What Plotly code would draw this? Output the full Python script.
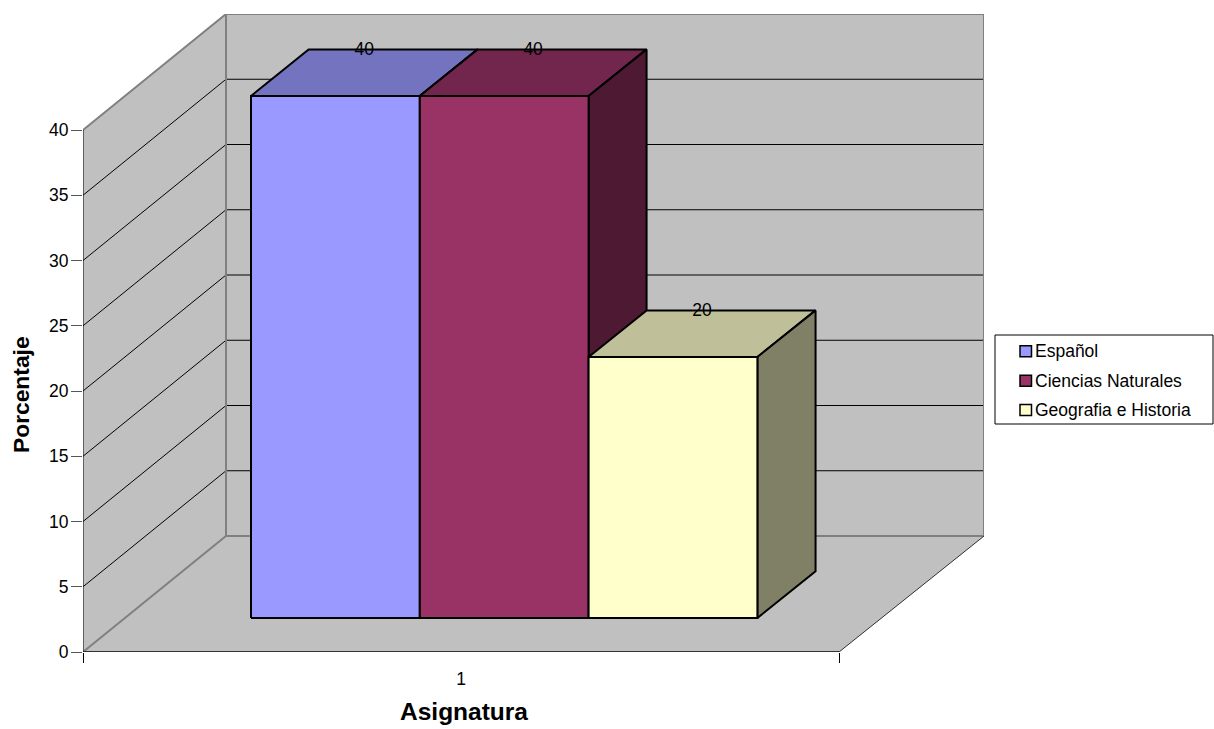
import plotly.graph_objects as go

# Chart data
series_names = ["Español", "Ciencias Naturales", "Geografia e Historia"]
series_values = [40, 40, 20]
category_label = "1"
value_ticks = [0, 5, 10, 15, 20, 25, 30, 35, 40]
x_title = "Asignatura"
y_title = "Porcentaje"

# Face colours of each bar: front, top, side
front_colors = ["#9999FF", "#993366", "#FFFFCC"]
top_colors = ["#7373BF", "#73264D", "#BFBF99"]
side_colors = ["#4D4D80", "#4D1933", "#808066"]

# Oblique projection of the 3D box onto the flat axes
PX_PER_CAT = 756
PX_PER_VALUE = 13.05
DEPTH_X = 143 / PX_PER_CAT
DEPTH_WIDEN = 2 / PX_PER_CAT   # the far end of the box is slightly wider
DEPTH_Y = 116 / PX_PER_VALUE
BAR_WIDTH = 168.67 / PX_PER_CAT
GAP = 1 / 6
BAR_DEPTH_FRONT = 0.293
BAR_DEPTH_BACK = 0.695
AXIS_TOP = 40
PLOT_LEFT, PLOT_RIGHT, PLOT_TOP, PLOT_BOTTOM = 83, 984, 14, 652
X_MAX = (PLOT_RIGHT - PLOT_LEFT) / PX_PER_CAT
Y_MAX = (PLOT_BOTTOM - PLOT_TOP) / PX_PER_VALUE
FONT_SIZE = 17.5


def project(x, value, depth):
    return x + depth * (DEPTH_X + x * DEPTH_WIDEN), value + depth * DEPTH_Y


def polygon(points):
    xs, ys = zip(*[project(*p) for p in points])
    return list(xs), list(ys)


def paper_x(px):
    return (px - PLOT_LEFT) / (PLOT_RIGHT - PLOT_LEFT)


def paper_y(px):
    return (PLOT_BOTTOM - px) / (PLOT_BOTTOM - PLOT_TOP)


fig = go.Figure()


def add_face(points, fill, line_color="#000000", width=2):
    xs, ys = polygon(points + points[:1])
    fig.add_trace(go.Scatter(
        x=xs, y=ys, mode="lines", fill="toself", fillcolor=fill,
        line=dict(color=line_color, width=width), showlegend=False,
        hoverinfo="skip", cliponaxis=False,
    ))


def add_line(points, color, width=1.0):
    xs, ys = polygon(points)
    fig.add_trace(go.Scatter(
        x=xs, y=ys, mode="lines", line=dict(color=color, width=width),
        showlegend=False, hoverinfo="skip", cliponaxis=False,
    ))


WALL = "#C0C0C0"
EDGE = "#808080"

# Floor, side wall and back wall
add_face([(0, 0, 0), (1, 0, 0), (1, 0, 1), (0, 0, 1)], WALL, WALL, 0.5)
add_face([(0, 0, 0), (0, 0, 1), (0, AXIS_TOP, 1), (0, AXIS_TOP, 0)], WALL, WALL, 0.5)
add_face([(0, 0, 1), (1, 0, 1), (1, AXIS_TOP, 1), (0, AXIS_TOP, 1)], WALL, WALL, 0.5)

# Gridlines run along the side wall and across the back wall
for tick in value_ticks[1:-1]:
    add_line([(0, tick, 0), (0, tick, 1), (1, tick, 1)], "#000000", 1)

# Wall outlines
add_line([(0, 0, 0), (0, 0, 1), (1, 0, 1), (1, AXIS_TOP, 1), (0, AXIS_TOP, 1), (0, AXIS_TOP, 0)], EDGE, 2)
add_line([(0, 0, 1), (0, AXIS_TOP, 1)], EDGE, 2)
add_line([(1, 0, 0), (1, 0, 1)], "#333333", 1)
add_line([(0, 0, 0), (1, 0, 0)], "#333333", 2)
add_line([(0, 0, 0), (0, AXIS_TOP, 0)], "#000000", 1)

# Bars, left to right
label_x, label_y = [], []
for i, value in enumerate(series_values):
    x0 = GAP + i * BAR_WIDTH
    x1 = x0 + BAR_WIDTH
    d0, d1 = BAR_DEPTH_FRONT, BAR_DEPTH_BACK
    add_face([(x0, value, d0), (x1, value, d0), (x1, value, d1), (x0, value, d1)], top_colors[i])
    add_face([(x1, 0, d0), (x1, 0, d1), (x1, value, d1), (x1, value, d0)], side_colors[i])
    add_face([(x0, 0, d0), (x1, 0, d0), (x1, value, d0), (x0, value, d0)], front_colors[i])
    label_x.append(project((x0 + x1) / 2, value, (d0 + d1) / 2)[0])
    label_y.append(project((x0 + x1) / 2, value, d1)[1] - 1.5 / PX_PER_VALUE)

# Value labels sit on the rear edge of each bar's top face
fig.add_trace(go.Scatter(
    x=label_x, y=label_y, mode="text", text=[str(v) for v in series_values],
    textposition="middle center", textfont=dict(size=FONT_SIZE, color="#000000"),
    showlegend=False, hoverinfo="skip", cliponaxis=False,
))

# Legend box, swatches and entries
legend_rows = [351.3, 380.7, 410]
shapes = [dict(
    type="rect", xref="paper", yref="paper",
    x0=paper_x(995), x1=paper_x(1213), y0=paper_y(424), y1=paper_y(335),
    line=dict(color="#000000", width=1), fillcolor="#FFFFFF",
)]
annotations = []
for name, color, row in zip(series_names, front_colors, legend_rows):
    shapes.append(dict(
        type="rect", xref="paper", yref="paper",
        x0=paper_x(1020), x1=paper_x(1031.5), y0=paper_y(row + 5.5), y1=paper_y(row - 5.5),
        line=dict(color="#000000", width=1.5), fillcolor=color,
    ))
    annotations.append(dict(
        text=name, xref="paper", yref="paper", x=paper_x(1034), y=paper_y(row),
        xanchor="left", yanchor="middle", showarrow=False, borderpad=0,
        font=dict(size=FONT_SIZE),
    ))

# Axis titles are centred on the front of the box rather than the whole plot area
annotations += [
    dict(text=f"<b>{x_title}</b>", xref="paper", yref="paper", x=paper_x(463.5), y=paper_y(711),
         xanchor="center", yanchor="middle", showarrow=False, font=dict(size=24.5)),
    dict(text=f"<b>{y_title}</b>", xref="paper", yref="paper", textangle=-90,
         x=paper_x(21), y=paper_y(395), xanchor="center", yanchor="middle",
         showarrow=False, font=dict(size=22.8)),
]

fig.update_layout(
    width=1214, height=729,
    margin=dict(l=PLOT_LEFT, r=1214 - PLOT_RIGHT, t=PLOT_TOP, b=729 - PLOT_BOTTOM, autoexpand=False),
    paper_bgcolor="#FFFFFF", plot_bgcolor="#FFFFFF",
    font=dict(family="Liberation Sans, Arial, sans-serif", size=FONT_SIZE, color="#000000"),
    showlegend=False,
    xaxis=dict(
        range=[0, X_MAX], showgrid=False, zeroline=False, showline=False,
        tickmode="array", tickvals=[0.5], ticktext=[category_label], ticks="outside",
        ticklen=11, tickcolor="rgba(0,0,0,0)",
        minor=dict(tickmode="array", tickvals=[0, 1], ticks="outside", ticklen=10, tickcolor="#000000", tickwidth=1),
    ),
    yaxis=dict(
        range=[0, Y_MAX], showgrid=False, zeroline=False, showline=False,
        tickmode="array", tickvals=value_ticks, ticks="outside", ticklen=11,
        tickcolor="#555555", tickwidth=1, ticklabelstandoff=-1,
    ),
    shapes=shapes,
    annotations=annotations,
)

fig.write_html("out.html")
